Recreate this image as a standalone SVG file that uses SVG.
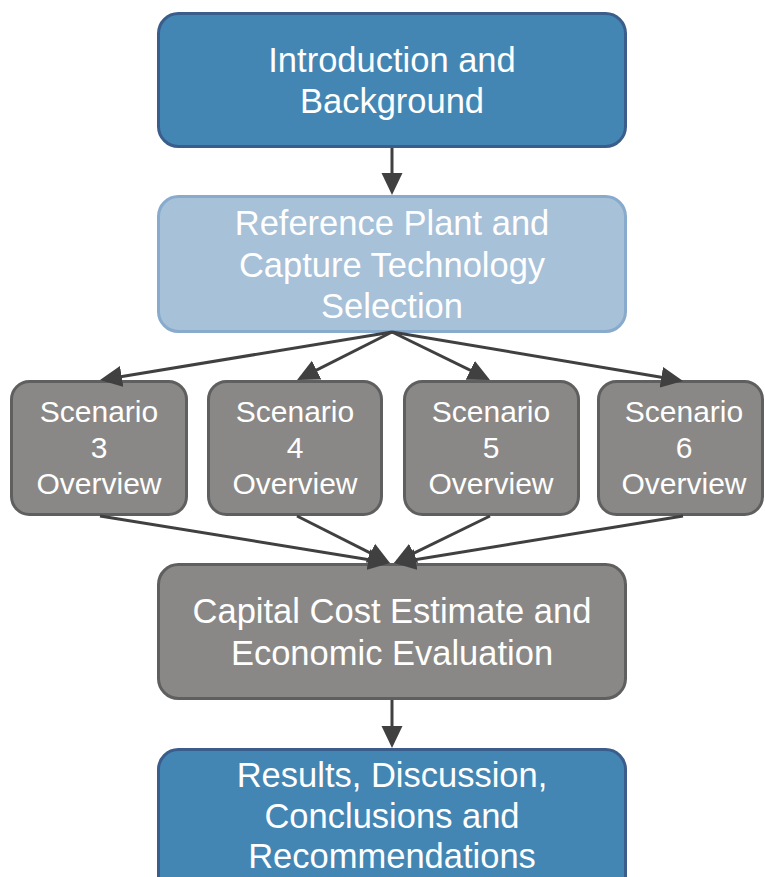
<svg xmlns="http://www.w3.org/2000/svg" width="765" height="877" viewBox="0 0 765 877">
<style>
  .dark { fill: #4386B4; stroke: #3B5D8B; stroke-width: 3; }
  .light { fill: #A7C1D9; stroke: #88AACC; stroke-width: 3; }
  .gray { fill: #8A8886; stroke: #5F5F5F; stroke-width: 3; }
  .big { font-family: "Liberation Sans", Arial, sans-serif; font-size: 34.5px; fill: #FFFFFF; text-anchor: middle; }
  .small { font-family: "Liberation Sans", Arial, sans-serif; font-size: 30px; fill: #FFFFFF; text-anchor: middle; }
  .conn { stroke: #404040; stroke-width: 3; fill: none; marker-end: url(#arrow); }
</style>
<defs>
  <marker id="arrow" markerUnits="userSpaceOnUse" markerWidth="22" markerHeight="22" refX="18" refY="11" orient="auto" viewBox="0 0 22 22">
    <path d="M0,0.5 L22,11 L0,21.5 z" fill="#404040"/>
  </marker>
</defs>
<rect width="765" height="877" fill="#FFFFFF"/>

<g id="intro">
  <rect class="dark" x="158.5" y="13.5" width="467" height="133" rx="20"/>
  <text class="big" x="392" y="72">Introduction and</text>
  <text class="big" x="392" y="113">Background</text>
</g>

<g id="reference">
  <rect class="light" x="158.5" y="196.5" width="467" height="135" rx="20"/>
  <text class="big" x="392" y="235">Reference Plant and</text>
  <text class="big" x="392" y="277">Capture Technology</text>
  <text class="big" x="392" y="318">Selection</text>
</g>

<g id="scenario3">
  <rect class="gray" x="11.5" y="381.5" width="175" height="133" rx="18"/>
  <text class="small" x="99" y="422">Scenario</text>
  <text class="small" x="99" y="458">3</text>
  <text class="small" x="99" y="494">Overview</text>
</g>

<g id="scenario4">
  <rect class="gray" x="208.5" y="381.5" width="173" height="133" rx="18"/>
  <text class="small" x="295" y="422">Scenario</text>
  <text class="small" x="295" y="458">4</text>
  <text class="small" x="295" y="494">Overview</text>
</g>

<g id="scenario5">
  <rect class="gray" x="404.5" y="381.5" width="174" height="133" rx="18"/>
  <text class="small" x="491" y="422">Scenario</text>
  <text class="small" x="491" y="458">5</text>
  <text class="small" x="491" y="494">Overview</text>
</g>

<g id="scenario6">
  <rect class="gray" x="598.5" y="381.5" width="164" height="133" rx="18"/>
  <text class="small" x="684" y="422">Scenario</text>
  <text class="small" x="684" y="458">6</text>
  <text class="small" x="684" y="494">Overview</text>
</g>

<g id="capital">
  <rect class="gray" x="158.5" y="564.5" width="467" height="134" rx="20"/>
  <text class="big" x="392" y="623">Capital Cost Estimate and</text>
  <text class="big" x="392" y="665">Economic Evaluation</text>
</g>

<g id="results">
  <rect class="dark" x="158.5" y="749.5" width="467" height="150" rx="20"/>
  <text class="big" x="392" y="787">Results, Discussion,</text>
  <text class="big" x="392" y="828">Conclusions and</text>
  <text class="big" x="392" y="868">Recommendations</text>
</g>

<g id="connectors">
  <line class="conn" x1="392" y1="148" x2="392" y2="191"/>
  <line class="conn" x1="392" y1="332" x2="103.9" y2="379.4"/>
  <line class="conn" x1="392" y1="332" x2="300.6" y2="378.2"/>
  <line class="conn" x1="392" y1="332" x2="486.4" y2="378.2"/>
  <line class="conn" x1="392" y1="332" x2="679.1" y2="380.3"/>
  <line class="conn" x1="100" y1="516" x2="386.1" y2="562.4"/>
  <line class="conn" x1="297" y1="516" x2="386.4" y2="561.2"/>
  <line class="conn" x1="490" y1="516" x2="397.5" y2="561.2"/>
  <line class="conn" x1="683" y1="516" x2="397.9" y2="562.4"/>
  <line class="conn" x1="392" y1="700" x2="392" y2="744"/>
</g>
</svg>
